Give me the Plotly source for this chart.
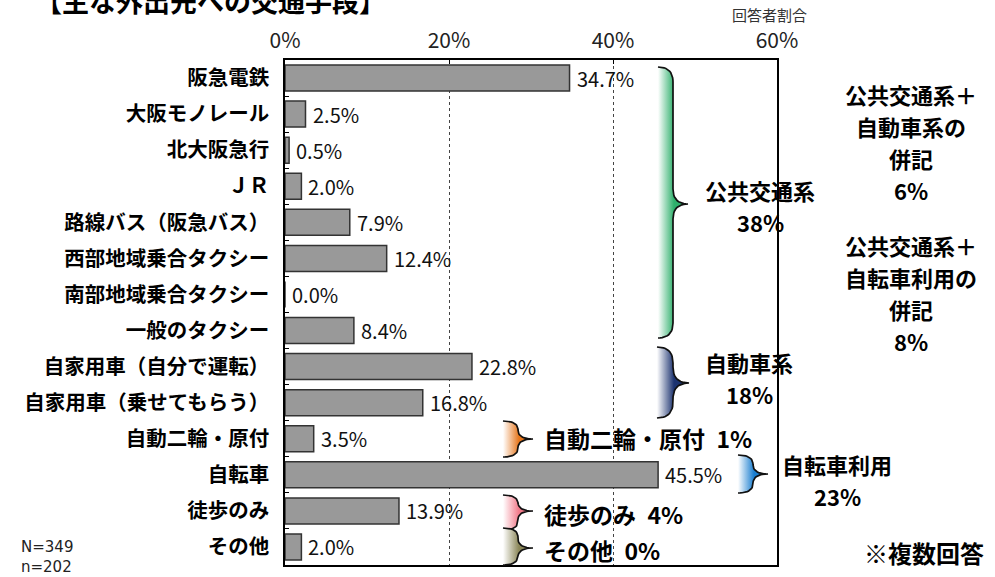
import numpy as np
import plotly.graph_objects as go

# ---------------- data ----------------
categories = ["阪急電鉄", "大阪モノレール", "北大阪急行", "ＪＲ", "路線バス（阪急バス）",
              "西部地域乗合タクシー", "南部地域乗合タクシー", "一般のタクシー",
              "自家用車（自分で運転）", "自家用車（乗せてもらう）", "自動二輪・原付",
              "自転車", "徒歩のみ", "その他"]
values = [34.7, 2.5, 0.5, 2.0, 7.9, 12.4, 0.0, 8.4, 22.8, 16.8, 3.5, 45.5, 13.9, 2.0]

x_tick_vals = [0, 20, 40, 60]
x_tick_text = ["0%", "20%", "40%", "60%"]

group_names = ["公共交通系", "自動車系", "自動二輪・原付", "自転車利用", "徒歩のみ", "その他"]
group_shares = [38, 18, 1, 23, 4, 0]
group_colors = ["#2fb06c", "#1c3370", "#e6761c", "#1a7ed0", "#f27a8a", "#8a8658"]

combo_notes = [["公共交通系＋", "自動車系の", "併記"], ["公共交通系＋", "自転車利用の", "併記"]]
combo_shares = [6, 8]

title_text = "【主な外出先への交通手段】"
axis_title = "回答者割合"
sample_lines = ["N=349", "n=202"]
footnote = "※複数回答"

# ---------------- layout geometry (pixels) ----------------
W, H = 995, 577
PL, PR, PT, PB = 285, 777, 60, 565
FONT = "Noto Sans CJK JP"
SP = "\u2002"
LS = 32  # line spacing of stacked labels

fig = go.Figure()

fig.add_trace(go.Bar(
    x=values, y=categories, orientation="h",
    marker=dict(color="#999999", line=dict(color="#333333", width=1.5)),
    width=0.72, xaxis="x", yaxis="y", hoverinfo="x+y",
))

annotations = []
for c, v in zip(categories, values):
    annotations.append(dict(x=v, y=c, xref="x", yref="y", text=f"{v:.1f}%",
                            showarrow=False, xanchor="left", yanchor="middle", xshift=5,
                            font=dict(family=FONT, size=20, color="#111111")))

# ---------------- braces (pixel overlay) ----------------
def qbez(p0, p1, p2, n=14):
    t = np.linspace(0, 1, n)
    x = (1 - t) ** 2 * p0[0] + 2 * (1 - t) * t * p1[0] + t ** 2 * p2[0]
    y = (1 - t) ** 2 * p0[1] + 2 * (1 - t) * t * p1[1] + t ** 2 * p2[1]
    return list(x), list(y)

def brace(xl, xm, xt, y0, y1, yc):
    r = min(xm - xl, (y1 - y0) / 4)
    r2 = min(xt - xm, (y1 - y0) / 4)
    xs, ys = [], []
    for seg in [((xl, y0), (xm, y0), (xm, y0 + r)),
                ((xm, yc - r2), (xm, yc), (xt, yc)),
                ((xt, yc), (xm, yc), (xm, yc + r2)),
                ((xm, y1 - r), (xm, y1), (xl, y1))]:
        sx, sy = qbez(*seg)
        xs += sx
        ys += sy
    return xs, ys

brace_geom = [  # xl, xm, xt, y0, y1, yc
    (658, 673, 688, 67, 338, 204),
    (657, 673, 689, 347, 418, 383),
    (503, 518, 533, 421, 457, 439),
    (738, 753, 768, 455, 493, 474),
    (503, 518, 533, 495, 530, 511),
    (503, 518, 533, 528, 565, 548),
]

for (xl, xm, xt, y0, y1, yc), col in zip(brace_geom, group_colors):
    bx, by = brace(xl, xm, xt, y0, y1, yc)
    fig.add_trace(go.Scatter(
        x=bx, y=by, mode="lines", fill="toself", line=dict(width=0, color="rgba(0,0,0,0)"),
        fillgradient=dict(type="horizontal", colorscale=[[0, "rgba(255,255,255,1)"], [1, col]],
                          start=xl, stop=xm + 1),
        xaxis="x2", yaxis="y2", hoverinfo="skip", showlegend=False))
    fig.add_trace(go.Scatter(
        x=bx, y=by, mode="lines", line=dict(width=1.7, color="#111111"),
        xaxis="x2", yaxis="y2", hoverinfo="skip", showlegend=False))

def pix(text, x, y, size, xanchor="center", color="#000000", weight="normal",
        family=FONT, align="center"):
    annotations.append(dict(x=x, y=y, xref="x2", yref="y2", text=text, showarrow=False,
                            xanchor=xanchor, yanchor="middle", align=align,
                            font=dict(family=family, size=size, color=color, weight=weight)))

def stack(lines, x, ytop, size, weight="bold"):
    for i, t in enumerate(lines):
        pix(t, x, ytop + i * LS, size, weight=weight)

BW = "bold"
GS = 22
# group labels
stack([group_names[0], f"{group_shares[0]}%"], 760, 190, GS)
stack([group_names[1], f"{group_shares[1]}%"], 749, 362, GS)
pix(f"{group_names[2]}{SP}{group_shares[2]}%", 542, 438, GS + 1, xanchor="left", weight=BW)
stack([group_names[3], f"{group_shares[3]}%"], 837, 464, GS)
pix(f"{group_names[4]}{SP}{group_shares[4]}%", 542, 514, GS + 1, xanchor="left", weight=BW)
pix(f"{group_names[5]}{SP}{group_shares[5]}%", 542, 550, GS + 1, xanchor="left", weight=BW)

# combined notes on the right
for lines, share, ytop in zip(combo_notes, combo_shares, [94, 245]):
    stack(lines + [f"{share}%"], 911, ytop, GS)

pix(footnote, 862, 552, 24, xanchor="left", weight=BW)
pix("<br>".join(sample_lines), 19, 557, 15, xanchor="left", color="#222222",
    family="DejaVu Sans", align="left")
pix(axis_title, 769, 14, 15, color="#333333")
pix(title_text, 33, 0, 27, xanchor="left", weight=BW)

fig.update_layout(
    width=W, height=H,
    margin=dict(l=0, r=0, t=0, b=0, pad=0),
    paper_bgcolor="white", plot_bgcolor="rgba(0,0,0,0)",
    showlegend=False,
    annotations=annotations,
    xaxis=dict(domain=[PL / W, PR / W], range=[0, 60], side="top", anchor="y",
               tickvals=x_tick_vals, ticktext=x_tick_text, ticks="inside", ticklen=4,
               tickcolor="#000000", ticklabelstandoff=2,
               tickfont=dict(family=FONT, size=21, color="#222222"),
               showgrid=True, gridcolor="#444444", griddash="dot", gridwidth=1,
               showline=True, mirror=True, linecolor="#000000", linewidth=1.5,
               zeroline=False, fixedrange=True, automargin=False),
    yaxis=dict(domain=[(H - PB) / H, (H - PT) / H], anchor="x", autorange="reversed",
               type="category", ticks="inside", tickson="boundaries", ticklen=4,
               tickcolor="#000000", ticklabelstandoff=10,
               tickfont=dict(family=FONT, size=20.5, color="#000000", weight="bold"),
               showline=True, mirror=True, linecolor="#000000", linewidth=1.5,
               showgrid=False, zeroline=False, fixedrange=True, automargin=False),
    xaxis2=dict(domain=[0, 1], range=[0, W], anchor="y2", visible=False, fixedrange=True),
    yaxis2=dict(domain=[0, 1], range=[H, 0], anchor="x2", visible=False, fixedrange=True),
)

fig.write_html("out.html", config={"displayModeBar": False},
               post_script="document.body.style.margin='0';document.body.style.overflow='hidden';")
